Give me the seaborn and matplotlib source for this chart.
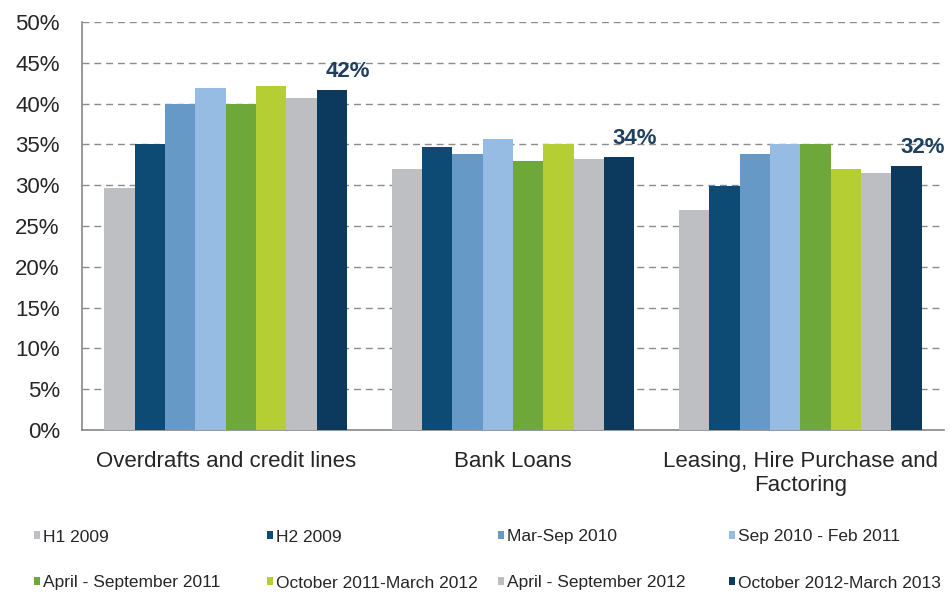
import matplotlib
matplotlib.use("Agg")
import matplotlib.pyplot as plt
from matplotlib import font_manager
from matplotlib.patches import Rectangle
import seaborn as sns
import pandas as pd

# Financing products and survey periods
categories = ["Overdrafts and credit lines", "Bank Loans",
              "Leasing, Hire Purchase and\nFactoring"]
periods = ["H1 2009", "H2 2009", "Mar-Sep 2010", "Sep 2010 - Feb 2011",
           "April - September 2011", "October 2011-March 2012",
           "April - September 2012", "October 2012-March 2013"]

# Share of respondents (%) per period, one list per product
overdrafts = [29.7, 35.0, 40.0, 41.9, 40.0, 42.1, 40.7, 41.7]
bank_loans = [32.0, 34.7, 33.8, 35.7, 33.0, 35.1, 33.2, 33.5]
leasing = [26.9, 29.9, 33.8, 35.1, 35.0, 32.0, 31.5, 32.4]

colors = ["#BEBFC3", "#0D4A74", "#6799C6", "#96BCE3",
          "#6EA83A", "#B5CE34", "#BDBEC2", "#0C3A5F"]

rows = []
for cat, vals in zip(categories, [overdrafts, bank_loans, leasing]):
    for per, v in zip(periods, vals):
        rows.append({"category": cat, "period": per, "value": v})
df = pd.DataFrame(rows)

sns.set_theme(style="white")
available = {f.name for f in font_manager.fontManager.ttflist}
main_font = "Liberation Sans" if "Liberation Sans" in available else "DejaVu Sans"
plt.rcParams["font.family"] = [main_font, "DejaVu Sans"]

W, H = 951, 593
fig = plt.figure(figsize=(W / 100, H / 100), dpi=100)
ax = fig.add_axes([82 / W, 1 - 430 / H, (944 - 82) / W, (430 - 22) / H])

sns.barplot(data=df, x="category", y="value", hue="period",
            hue_order=periods, order=categories, palette=colors,
            width=0.845, gap=0, saturation=1, legend=False,
            edgecolor="none", linewidth=0, ax=ax, zorder=3)

ax.set_ylim(0, 50)
ax.set_xlim(-0.5, 2.5)
ax.set_yticks(range(0, 51, 5))
ax.set_yticklabels([f"{t}%" for t in range(0, 51, 5)])
ax.yaxis.grid(True, linestyle=(0, (5, 3.5)), color="#8C8C8C", linewidth=1.0, zorder=0)
ax.set_axisbelow(True)
ax.set_xlabel("")
ax.set_ylabel("")

for side in ["top", "right"]:
    ax.spines[side].set_visible(False)
for side in ["left", "bottom"]:
    ax.spines[side].set_color("#888888")
    ax.spines[side].set_linewidth(1.2)

ax.tick_params(axis="y", which="major", length=6, width=1, color="#888888",
               direction="out", labelsize=16, labelcolor="#262626", pad=10)
ax.tick_params(axis="x", length=0, labelsize=16, labelcolor="#262626", pad=15)
for lbl in ax.get_xticklabels():
    lbl.set_linespacing(1.2)

# Latest-period value labels beside the top of the final bar of each group
for bar in ax.containers[-1]:
    v = bar.get_height()
    ax.text(bar.get_x() + bar.get_width() / 2 + 0.055, v + 2.2, f"{round(v)}%",
            ha="center", va="center", fontsize=16, fontweight="bold",
            color="#1F3F5E", zorder=5)

# Legend: two rows of four swatch + label entries under the plot
col_x = [34, 267, 498, 729]
row_y = [537, 583]
for i, (per, col) in enumerate(zip(periods, colors)):
    x = col_x[i % 4]
    y = row_y[i // 4]
    fig.patches.append(Rectangle((x / W, 1 - (y + 2) / H), 6 / W, 8 / H,
                                 transform=fig.transFigure, facecolor=col,
                                 edgecolor="none"))
    fig.text((x + 9) / W, 1 - y / H, per, ha="left", va="center",
             fontsize=12.5, color="#262626")

fig.savefig("out.png", dpi=100, facecolor="white")
